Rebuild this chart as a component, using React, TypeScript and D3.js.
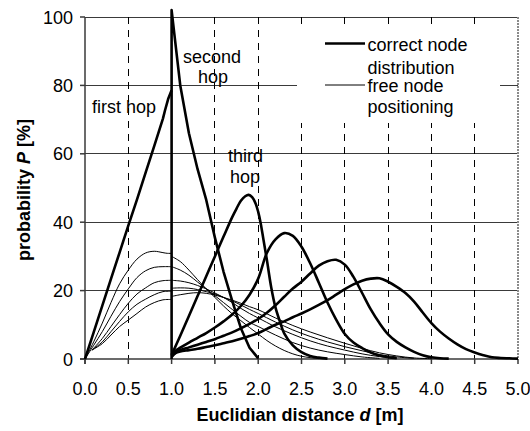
import React, { useEffect, useRef } from 'react';
import * as d3 from 'd3';

const W = 530;
const H = 431;

const xTicks = [0, 0.5, 1, 1.5, 2, 2.5, 3, 3.5, 4, 4.5, 5];
const yTicks = [0, 20, 40, 60, 80, 100];
const xLabel = 'Euclidian distance ';
const yLabel = 'probability ';

// correct node distribution (thick)
const hop1: [number, number][] = [[0, 0], [0.1, 7.8], [0.2, 15.6], [0.3, 23.4], [0.4, 31.2], [0.5, 39], [0.6, 46.6], [0.7, 54.5], [0.8, 62.3], [0.9, 70.3], [0.925, 72.8], [0.96, 76], [1.0, 78.6]];
const hop2: [number, number][] = [[1.0, 0], [1.0, 102], [1.05, 91], [1.1, 80], [1.2, 66], [1.3, 55.5], [1.4, 46.5], [1.5, 35.5], [1.6, 25.5], [1.7, 17], [1.8, 9], [1.9, 3.3], [2.0, 0.2]];
const hop3: [number, number][] = [[1.0, 1.2], [1.1, 6.8], [1.2, 12.6], [1.3, 18.4], [1.4, 24.2], [1.5, 30], [1.6, 35.8], [1.7, 41.5], [1.75, 44], [1.8, 46.3], [1.85, 47.6], [1.89, 48], [1.93, 47.3], [1.97, 45.5], [2.0, 43], [2.03, 39.5], [2.06, 35], [2.1, 29], [2.15, 21], [2.2, 15], [2.25, 11], [2.3, 7.5], [2.4, 4], [2.5, 2], [2.6, 0.9], [2.7, 0.4], [2.8, 0.1]];
const hop4: [number, number][] = [[1.0, 1], [1.05, 2.5], [1.1, 3.3], [1.2, 4.8], [1.3, 6.2], [1.4, 7.6], [1.5, 9.2], [1.6, 11], [1.7, 13], [1.8, 15.5], [1.9, 18.8], [2.0, 23.5], [2.1, 31], [2.2, 35], [2.3, 36.8], [2.4, 36], [2.5, 32.8], [2.6, 28], [2.7, 22.3], [2.8, 16.5], [2.9, 11.5], [3.0, 7.3], [3.1, 4.8], [3.2, 3.2], [3.3, 1.9], [3.4, 1], [3.5, 0.5], [3.6, 0.2]];
const hop5: [number, number][] = [[1.0, 0.8], [1.05, 2], [1.1, 2.6], [1.2, 3.4], [1.3, 4.2], [1.4, 5], [1.5, 5.8], [1.6, 6.8], [1.7, 7.8], [1.8, 9], [1.9, 10.3], [2.0, 11.7], [2.1, 13.5], [2.2, 15.7], [2.3, 18.2], [2.4, 20.6], [2.5, 22.6], [2.6, 25], [2.7, 27.3], [2.8, 28.6], [2.9, 29], [3.0, 27.6], [3.1, 24], [3.2, 19.3], [3.3, 14.5], [3.4, 10.5], [3.5, 7.2], [3.6, 5], [3.7, 3.4], [3.8, 2.1], [3.9, 1.1], [4.0, 0.5], [4.1, 0.2], [4.2, 0.1]];
const hop6: [number, number][] = [[1.0, 0.6], [1.05, 1.8], [1.1, 2.2], [1.2, 2.6], [1.3, 3], [1.4, 3.5], [1.5, 4], [1.6, 4.6], [1.7, 5.2], [1.8, 5.9], [1.9, 6.7], [2.0, 7.6], [2.1, 8.8], [2.2, 10], [2.3, 11], [2.4, 12.2], [2.5, 13.3], [2.6, 14.5], [2.7, 15.8], [2.8, 17.2], [2.9, 18.8], [3.0, 20.4], [3.1, 21.8], [3.2, 22.9], [3.3, 23.5], [3.4, 23.6], [3.5, 22.6], [3.6, 21.1], [3.7, 19.3], [3.8, 16.8], [3.9, 13.6], [4.0, 10.5], [4.1, 8], [4.2, 6], [4.3, 4.3], [4.4, 2.9], [4.5, 1.9], [4.6, 1.1], [4.7, 0.5], [4.8, 0.3], [4.9, 0.2], [5.0, 0.1]];

// free node positioning (thin), left of 1 m
const free1L: [number, number][] = [[0, 0], [0.1, 5], [0.2, 10.5], [0.3, 16.5], [0.4, 22], [0.5, 26], [0.6, 29.2], [0.7, 31], [0.8, 31.5], [0.9, 31.1], [0.95, 30.9], [1.0, 30.9]];
const free2L: [number, number][] = [[0, 0], [0.1, 4], [0.2, 8], [0.3, 12.5], [0.4, 16.8], [0.5, 20.5], [0.6, 23.8], [0.7, 25.8], [0.8, 26.8], [0.9, 27], [1.0, 27]];
const free3L: [number, number][] = [[0.08, 2.6], [0.2, 6], [0.3, 9.5], [0.4, 13], [0.5, 16.3], [0.6, 19], [0.7, 20.8], [0.8, 22.3], [0.9, 22.9], [1.0, 23]];
const free4L: [number, number][] = [[0.08, 2.6], [0.2, 5], [0.3, 8], [0.4, 11], [0.5, 13.8], [0.6, 16], [0.7, 17.5], [0.8, 18.8], [0.9, 19.7], [1.0, 19.8]];
const free5L: [number, number][] = [[0.08, 2.6], [0.2, 4.5], [0.3, 7], [0.4, 9.5], [0.5, 11.4], [0.6, 13.3], [0.7, 15.2], [0.8, 16.5], [0.9, 17.3], [1.0, 17.4]];
// free node positioning (thin), right of 1 m
const free1R: [number, number][] = [[1.0, 30], [1.1, 28.5], [1.2, 26], [1.3, 23.2], [1.4, 20.5], [1.5, 18], [1.6, 15.5], [1.7, 13.2], [1.8, 11.2], [1.9, 9.2], [2.0, 7.3], [2.1, 5.4], [2.2, 3.8], [2.3, 2.5], [2.4, 1.5], [2.5, 0.8], [2.6, 0.4], [2.7, 0.1]];
const free2R: [number, number][] = [[1.0, 27], [1.1, 26], [1.2, 24.5], [1.3, 22.5], [1.4, 20.5], [1.5, 18.5], [1.6, 16.5], [1.7, 14.5], [1.8, 12.5], [1.9, 10.7], [2.0, 9.5], [2.2, 7], [2.4, 4.8], [2.6, 3.2], [2.8, 2.1], [3.0, 1.3], [3.2, 0.6], [3.4, 0.2]];
const free3R: [number, number][] = [[1.0, 23], [1.1, 22.8], [1.2, 22.3], [1.3, 21.5], [1.4, 20.5], [1.5, 19.3], [1.6, 18], [1.7, 16.5], [1.8, 14.8], [1.9, 13.3], [2.0, 12], [2.2, 9.4], [2.4, 7.2], [2.6, 5.3], [2.8, 3.8], [3.0, 2.6], [3.2, 1.5], [3.4, 0.7], [3.6, 0.2]];
const free4R: [number, number][] = [[1.0, 20.7], [1.1, 20.8], [1.2, 20.7], [1.3, 20.3], [1.4, 19.7], [1.5, 19], [1.6, 18], [1.7, 17], [1.8, 15.8], [1.9, 14.5], [2.0, 13.3], [2.2, 10.8], [2.4, 8.5], [2.6, 6.6], [2.8, 5], [3.0, 3.6], [3.2, 2.4], [3.4, 1.3], [3.6, 0.6], [3.8, 0.2]];
const free5R: [number, number][] = [[1.0, 18.3], [1.1, 18.8], [1.2, 19.2], [1.3, 19.4], [1.4, 19.2], [1.5, 18.7], [1.6, 18], [1.7, 17.2], [1.8, 16.3], [1.9, 15.3], [2.0, 14.4], [2.2, 12], [2.4, 9.8], [2.6, 7.9], [2.8, 6.2], [3.0, 4.6], [3.2, 3.1], [3.4, 1.8], [3.6, 0.9], [3.8, 0.3], [4.0, 0.1]];

const FONT = '"Liberation Sans", Arial, sans-serif';

export default function App() {
  const ref = useRef<SVGSVGElement>(null);
  useEffect(() => {
    const svg = d3.select(ref.current);
    svg.selectAll('*').remove();
    const x = d3.scaleLinear().domain([0, 5]).range([85, 518]);
    const y = d3.scaleLinear().domain([0, 100]).range([359, 17]);
    const g = svg.append('g').attr('font-family', FONT).attr('fill', '#000');

    // horizontal gridlines
    g.selectAll('line.hg').data(yTicks.filter(t => t > 0)).enter().append('line')
      .attr('x1', x(0)).attr('x2', x(5)).attr('y1', d => y(d)).attr('y2', d => y(d))
      .attr('stroke', '#3a3a3a').attr('stroke-width', 1).attr('shape-rendering', 'crispEdges');
    // vertical dashed gridlines
    g.selectAll('line.vg').data(xTicks.filter(t => t > 0 && t < 5)).enter().append('line')
      .attr('x1', d => x(d)).attr('x2', d => x(d)).attr('y1', y(100)).attr('y2', y(0))
      .attr('stroke', '#000').attr('stroke-width', 1).attr('stroke-dasharray', '7,6')
      .attr('shape-rendering', 'crispEdges');
    // right border
    g.append('line').attr('x1', x(5)).attr('x2', x(5)).attr('y1', y(100)).attr('y2', y(0))
      .attr('stroke', '#8a8a8a').attr('stroke-width', 2).attr('stroke-dasharray', '2,1');

    // legend background
    g.append('rect').attr('x', 297).attr('y', 26).attr('width', 203).attr('height', 97).attr('fill', '#fff');

    // axes
    g.append('line').attr('x1', x(0)).attr('x2', x(0)).attr('y1', y(100)).attr('y2', y(0) + 5)
      .attr('stroke', '#3a3a3a').attr('stroke-width', 1.5);
    g.append('line').attr('x1', x(0) - 5).attr('x2', x(5)).attr('y1', y(0)).attr('y2', y(0))
      .attr('stroke', '#3a3a3a').attr('stroke-width', 1.5);
    g.selectAll('line.xt').data(xTicks).enter().append('line')
      .attr('x1', d => x(d)).attr('x2', d => x(d)).attr('y1', y(0)).attr('y2', y(0) + 5)
      .attr('stroke', '#3a3a3a').attr('stroke-width', 1.5);
    g.selectAll('line.yt').data(yTicks).enter().append('line')
      .attr('x1', x(0) - 5).attr('x2', x(0)).attr('y1', d => y(d)).attr('y2', d => y(d))
      .attr('stroke', '#3a3a3a').attr('stroke-width', 1.5);

    // tick labels
    g.selectAll('text.xl').data(xTicks).enter().append('text')
      .attr('x', d => x(d)).attr('y', 394.5).attr('text-anchor', 'middle').attr('font-size', 18)
      .text(d => d3.format('.1f')(d));
    g.selectAll('text.yl').data(yTicks).enter().append('text')
      .attr('x', 73).attr('y', d => y(d) + 6.5).attr('text-anchor', 'end').attr('font-size', 18)
      .text(d => String(d));

    // axis titles
    const xt = g.append('text').attr('x', 300).attr('y', 421).attr('text-anchor', 'middle')
      .attr('font-size', 18).attr('font-weight', 'bold');
    xt.append('tspan').text(xLabel);
    xt.append('tspan').attr('font-style', 'italic').text('d');
    xt.append('tspan').text(' [m]');
    const yt = g.append('text').attr('transform', 'translate(30,190) rotate(-90)').attr('text-anchor', 'middle')
      .attr('font-size', 18).attr('font-weight', 'bold');
    yt.append('tspan').text(yLabel);
    yt.append('tspan').attr('font-style', 'italic').text('P');
    yt.append('tspan').text(' [%]');

    const smooth = d3.line<[number, number]>().x(d => x(d[0])).y(d => y(d[1])).curve(d3.curveCatmullRom.alpha(0.5));
    const straight = d3.line<[number, number]>().x(d => x(d[0])).y(d => y(d[1]));

    // thin curves
    [free1L, free2L, free3L, free4L, free5L, free1R, free2R, free3R, free4R, free5R].forEach(s => {
      g.append('path').attr('d', smooth(s)).attr('fill', 'none').attr('stroke', '#000').attr('stroke-width', 1);
    });
    // thick curves
    [hop1, hop2].forEach(s => {
      g.append('path').attr('d', straight(s)).attr('fill', 'none').attr('stroke', '#000').attr('stroke-width', 2.6)
        .attr('stroke-linejoin', 'round');
    });
    [hop3, hop4, hop5, hop6].forEach(s => {
      g.append('path').attr('d', smooth(s)).attr('fill', 'none').attr('stroke', '#000').attr('stroke-width', 2.6)
        .attr('stroke-linejoin', 'round');
    });

    // annotations
    const ann: [string, number, number][] = [['first hop', 92, 113], ['second', 183, 63], ['hop', 198, 83], ['third', 228, 162], ['hop', 230, 183]];
    ann.forEach(([t, ax, ay]) => {
      g.append('text').attr('x', ax).attr('y', ay).attr('font-size', 18).text(t);
    });

    // legend
    g.append('line').attr('x1', 325).attr('x2', 365).attr('y1', 43.5).attr('y2', 43.5).attr('stroke', '#000').attr('stroke-width', 2.6);
    g.append('line').attr('x1', 325).attr('x2', 365).attr('y1', 85).attr('y2', 85).attr('stroke', '#000').attr('stroke-width', 1);
    const leg: [string, number][] = [['correct node', 50.5], ['distribution', 74], ['free node', 91.5], ['positioning', 113]];
    leg.forEach(([t, ly]) => {
      g.append('text').attr('x', 367.5).attr('y', ly).attr('font-size', 18).text(t);
    });
  }, []);
  return <svg ref={ref} width={W} height={H} style={{ position: 'absolute', left: 0, top: 0, background: '#fff' }} />;
}
